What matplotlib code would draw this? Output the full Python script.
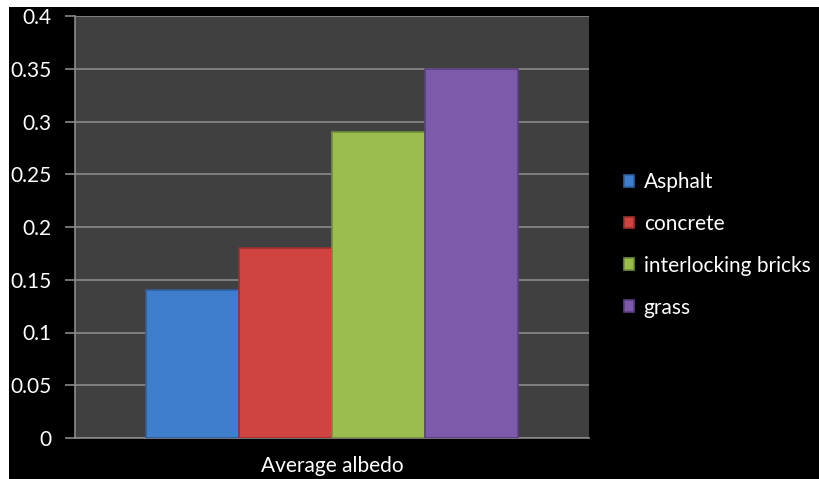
import numpy as np
import matplotlib
matplotlib.use('Agg')
import matplotlib.pyplot as plt
from matplotlib.patches import Rectangle

# data
materials = ['Asphalt', 'concrete', 'interlocking bricks', 'grass']
albedo = [0.14, 0.18, 0.29, 0.35]
colors = ['#3f7ecd', '#cf4340', '#9bbd4e', '#7d5aaa']
edges = ['#2d5f9e', '#9c2f2d', '#72903a', '#5b3f80']
category = 'Average albedo'
yticks = [0, 0.05, 0.1, 0.15, 0.2, 0.25, 0.3, 0.35, 0.4]

plt.rcParams['font.family'] = ['Lato', 'DejaVu Sans']

fig = plt.figure(figsize=(8.19, 4.79), dpi=100)
fig.patch.set_facecolor('white')
# black slide background with a thin white strip at top/left
fig.patches.append(Rectangle((9 / 819, 0), 1, 1 - 7 / 479, transform=fig.transFigure,
                             facecolor='black', edgecolor='none', zorder=-10))

ax = fig.add_axes([75 / 819, 1 - 438 / 479, (589 - 75) / 819, (438 - 16) / 479])
ax.set_facecolor('#404040')

w = 0.181
offsets = (np.arange(len(materials)) - 1.5) * w
for off, val, c, e, name in zip(offsets, albedo, colors, edges, materials):
    ax.bar(off, val, width=w, color=c, edgecolor=e, linewidth=1.2, label=name, zorder=3)

ax.set_xlim(-0.5, 0.5)
ax.set_ylim(0, 0.4)
ax.set_yticks(yticks)
ax.set_yticklabels([f'{v:g}' for v in yticks])
ax.set_xticks([0])
ax.set_xticklabels([category])
ax.yaxis.grid(True, color='#8a8a8a', linewidth=1.2, zorder=1)
ax.tick_params(axis='y', colors='#8a8a8a', labelcolor='white', labelsize=15,
               length=7, width=1.2, direction='out', pad=10)
ax.tick_params(axis='x', length=0, labelcolor='white', labelsize=15, pad=13)
for s in ['top', 'right']:
    ax.spines[s].set_visible(False)
for s in ['left', 'bottom']:
    ax.spines[s].set_color('#8a8a8a')
    ax.spines[s].set_linewidth(1.2)

leg = fig.legend(loc='upper left', bbox_to_anchor=(624 / 819, 1 - 172 / 479),
                 frameon=False, fontsize=15, labelcolor='white',
                 borderpad=0, borderaxespad=0,
                 handlelength=0.5, handleheight=0.5, handletextpad=0.45,
                 labelspacing=1.05)

fig.savefig('out.png', dpi=100, facecolor=fig.get_facecolor())
